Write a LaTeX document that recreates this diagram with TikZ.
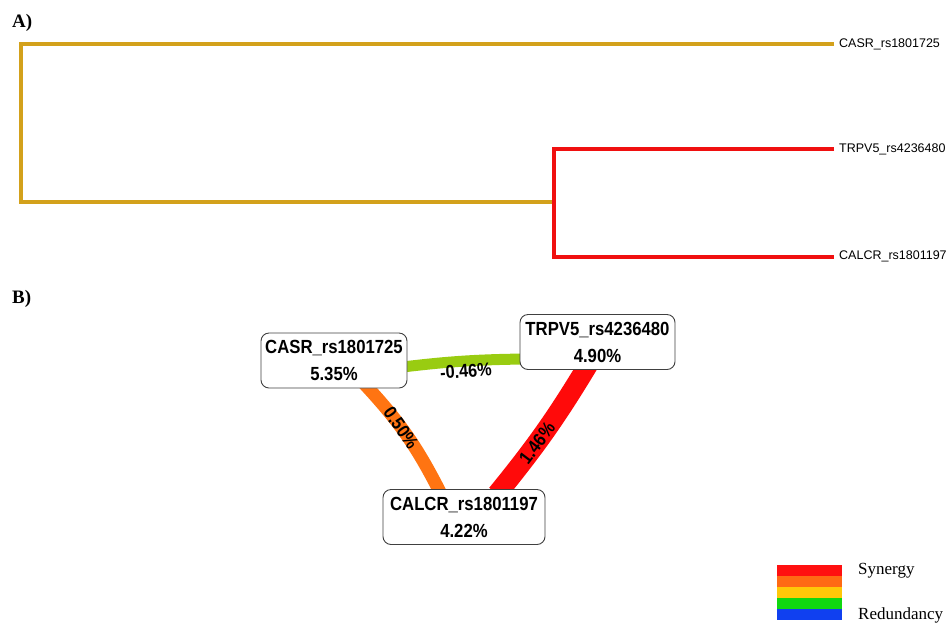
\documentclass[tikz,border=0pt]{standalone}
\usepackage{fontspec}
\setmainfont{Liberation Serif}
\setsansfont{Liberation Sans}
\newfontfamily\condsans[FakeStretch=0.88]{Liberation Sans}
\usetikzlibrary{backgrounds}
\definecolor{dgold}{HTML}{D3A11B}
\definecolor{dred}{HTML}{F01010}
\definecolor{egreen}{HTML}{99CC11}
\definecolor{eorange}{HTML}{FF7412}
\definecolor{ered}{HTML}{FF0A0A}
\definecolor{lred}{HTML}{FF1010}
\definecolor{lorange}{HTML}{FF6A14}
\definecolor{lyellow}{HTML}{FFC808}
\definecolor{lgreen}{HTML}{10D810}
\definecolor{lblue}{HTML}{1040F0}
\begin{document}
\begin{tikzpicture}[x=1pt,y=-1pt,
  tree/.style={line width=4pt},
  leaf/.style={anchor=west, inner sep=0pt, font=\sffamily\fontsize{12.5}{14}\selectfont},
  panel/.style={anchor=base west, inner sep=0pt, font=\bfseries\fontsize{19}{19}\selectfont},
  gnode/.style={draw=black!75, fill=white, rounded corners=8pt, line width=0.9pt, align=center,
    font=\condsans\bfseries\fontsize{19}{27}\selectfont, minimum height=55pt, inner sep=0pt},
  elabel/.style={inner sep=0pt, font=\condsans\bfseries\fontsize{18.5}{20}\selectfont},
  legtext/.style={anchor=base west, inner sep=0pt, font=\fontsize{17}{20}\selectfont}]
\useasboundingbox (0,0) rectangle (950,625);

% panel labels
\node[panel] (ta) at (12,27) {A)};
\node[panel] (tb) at (12,303) {B)};

% dendrogram
\node[leaf] (l1) at (839,44) {CASR\_rs1801725};
\node[leaf] (l2) at (839,149) {TRPV5\_rs4236480};
\node[leaf] (l3) at (839,256.5) {CALCR\_rs1801197};
\coordinate (jn) at (554,201.5);
\draw[tree, dgold] ([xshift=-5pt]l1.west) -| (20.5,201.5) -- (jn);
\draw[tree, dred] ([xshift=-5pt]l2.west) -| (jn) |- ([xshift=-5pt]l3.west);

% interaction graph
\node[gnode, minimum width=146pt] (casr) at (334,360.5) {CASR\_rs1801725\\5.35\%};
\node[gnode, minimum width=155pt] (trpv) at (597.5,342) {TRPV5\_rs4236480\\4.90\%};
\node[gnode, minimum width=162pt] (calcr) at (464,517) {CALCR\_rs1801197\\4.22\%};

\begin{pgfonlayer}{background}
\draw[egreen, line width=11pt] ([xshift=-5pt,yshift=-6.5pt]casr.east) to[bend left=3] ([xshift=5pt,yshift=-17pt]trpv.west);
\draw[eorange, line width=13pt] ([xshift=30pt,yshift=5pt]casr.south) to[bend left=8] ([xshift=-23pt,yshift=-5pt]calcr.north);
\draw[ered, line width=20pt] ([xshift=-9.5pt,yshift=5pt]trpv.south) to[bend left=4] ([xshift=33pt,yshift=-5pt]calcr.north);
\end{pgfonlayer}

\node[elabel, rotate=4] (e1) at (466,371) {-0.46\%};
\node[elabel, rotate=-55] (e2) at (401,428) {0.50\%};
\node[elabel, rotate=53] (e3) at (537,443) {1.46\%};

% legend
\fill[lred] (777,565) rectangle (842,576);
\fill[lorange] (777,576) rectangle (842,587);
\fill[lyellow] (777,587) rectangle (842,598);
\fill[lgreen] (777,598) rectangle (842,609);
\fill[lblue] (777,609) rectangle (842,620);
\node[legtext] (syn) at (858,574) {Synergy};
\node[legtext] (red) at (858,619) {Redundancy};
\end{tikzpicture}
\end{document}
